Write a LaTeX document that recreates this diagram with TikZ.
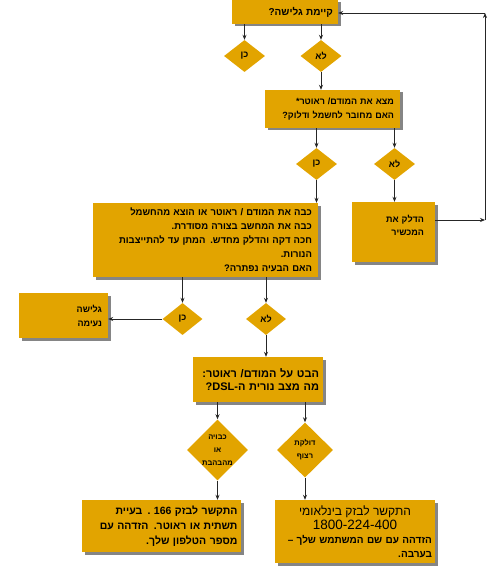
\documentclass[tikz,border=0pt]{standalone}
\usepackage{fontspec}
\usetikzlibrary{positioning, arrows.meta, shapes.geometric, shadows, calc}
\newfontfamily\hebfont[Script=Hebrew]{Liberation Sans}
\TeXXeTstate=1
\definecolor{boxgold}{HTML}{E2A400}
\newcommand\hebline[1]{\mbox{\beginR#1\endR}}

\begin{document}
\begin{tikzpicture}[
      x=1pt, y=-1pt,
      every node/.style={font=\hebfont\bfseries\fontsize{9}{14}\selectfont},
      qbox/.style={fill=boxgold, align=right, inner sep=3pt,
        drop shadow={shadow xshift=2.5pt, shadow yshift=-2.5pt, fill=black!60, opacity=.8}},
      decide/.style={diamond, fill=boxgold, inner sep=0pt, align=center},
      small/.style={font=\hebfont\bfseries\fontsize{7.5}{13}\selectfont},
      >={Stealth[length=5pt, width=4pt]},
      flow/.style={->, line width=0.7pt, draw=black!85},
    ]
    \useasboundingbox (0,0) rectangle (500,572);

    \node[qbox, minimum width=106pt, minimum height=24pt, text width=96pt,
      font=\hebfont\bfseries\fontsize{10}{14}\selectfont] (q1) at (285,12) {\hebline{קיימת גלישה?}};
    \node[decide, minimum width=41pt, minimum height=32pt] (yes1) at (244.5,56) {\hebline{כן}};
    \node[decide, minimum width=41pt, minimum height=32pt] (no1) at (321,56) {\hebline{לא}};

    \node[qbox, minimum width=135pt, minimum height=38pt, text width=123pt] (q2) at (332.5,109)
      {\hebline{מצא את המודם/ ראוטר*}\\ \hebline{האם מחובר לחשמל ודלוק?}};
    \node[decide, minimum width=41pt, minimum height=32pt] (yes2) at (316.5,164) {\hebline{כן}};
    \node[decide, minimum width=41pt, minimum height=32pt] (no2) at (394.5,164) {\hebline{לא}};

    \node[qbox, minimum width=83pt, minimum height=60pt, text width=61pt, text depth=26pt,
      font=\hebfont\bfseries\fontsize{9}{13}\selectfont] (poweron) at (393.5,232)
      {\hebline{הדלק את}\\ \hebline{המכשיר}};

    \node[qbox, minimum width=225pt, minimum height=74pt, text width=213pt,
      font=\hebfont\bfseries\fontsize{9.5}{14}\selectfont] (q3) at (205.5,240)
      {\hebline{כבה את המודם / ראוטר או הוצא מהחשמל}\\
       \hebline{כבה את המחשב בצורה מסודרת.}\\
       \hebline{חכה דקה והדלק מחדש. המתן עד להתייצבות}\\
       \hebline{הנורות.}\\
       \hebline{האם הבעיה נפתרה?}};
    \node[decide, minimum width=40pt, minimum height=32pt] (yes3) at (182.5,319) {\hebline{כן}};
    \node[decide, minimum width=40pt, minimum height=32pt] (no3) at (266,319) {\hebline{לא}};

    \node[qbox, minimum width=89pt, minimum height=45pt, text width=77pt] (done) at (63.5,315.5)
      {\hebline{גלישה}\\ \hebline{נעימה}};

    \node[qbox, minimum width=130pt, minimum height=45pt, text width=122pt,
      font=\hebfont\bfseries\fontsize{11}{13}\selectfont] (q4) at (258,379.5)
      {\hebline{הבט על המודם/ ראוטר:}\\ \hebline{מה מצב נורית ה-\beginL DSL\endL?}};
    \node[decide, small, minimum width=59pt, minimum height=54pt] (off4) at (217.5,450)
      {\hebline{כבויה}\\ \hebline{או}\\ \hebline{מהבהבת}};
    \node[decide, small, minimum width=56pt, minimum height=55pt] (on4) at (305,450)
      {\hebline{דולקת}\\ \hebline{רצוף}};

    \node[qbox, minimum width=159pt, minimum height=52pt, text width=152pt,
      font=\hebfont\bfseries\fontsize{10.5}{15}\selectfont] (call166) at (161.5,526)
      {\hebline{התקשר לבזק \beginL166\endL{} . בעיית}\\
       \hebline{תשתית או ראוטר. הזדהה עם}\\
       \hebline{מספר הטלפון שלך.}};
    \node[qbox, minimum width=160pt, minimum height=63pt, text width=154pt, align=center,
      font=\hebfont\bfseries\fontsize{10}{14}\selectfont] (callintl) at (355,531.5)
      {{\fontsize{12}{13}\selectfont\mdseries\hebline{התקשר לבזק בינלאומי}\\
        \fontsize{13.5}{14}\selectfont 1800-224-400}\\
       \hfill\hebline{הזדהה עם שם המשתמש שלך –}\\
       \hfill\hebline{בערבה.}};

    \coordinate (loopb) at (485,220);
    \coordinate (loopt) at (485,13);

    \draw[flow] (q1.south -| yes1) -- (yes1);
    \draw[flow] (q1.south -| no1) -- (no1);
    \draw[flow] (no1) -- (no1 |- q2.north);
    \draw[flow] (q2.south -| yes2) -- (yes2);
    \draw[flow] (q2.south -| no2) -- (no2);
    \draw[flow] (no2) -- (no2 |- poweron.north);
    \draw[flow] (yes2) -- (yes2 |- q3.north);
    \draw[flow] (q3.south -| yes3) -- (yes3);
    \draw[flow] (q3.south -| no3) -- (no3);
    \draw[flow] (yes3.west) -- (yes3.west -| done.east);
    \draw[flow] (no3) -- (no3 |- q4.north);
    \draw[flow] (q4.south -| off4) -- (off4);
    \draw[flow] (q4.south -| on4) -- (on4);
    \draw[flow] (off4) -- (off4 |- call166.north);
    \draw[flow] (on4) -- (on4 |- callintl.north);
    \draw[flow] (poweron.east |- loopb) -- (loopb);
    \draw[flow] (loopb) -- (loopt);
    \draw[flow] (loopt) -- (loopt -| q1.east);
  \end{tikzpicture}
\end{document}
